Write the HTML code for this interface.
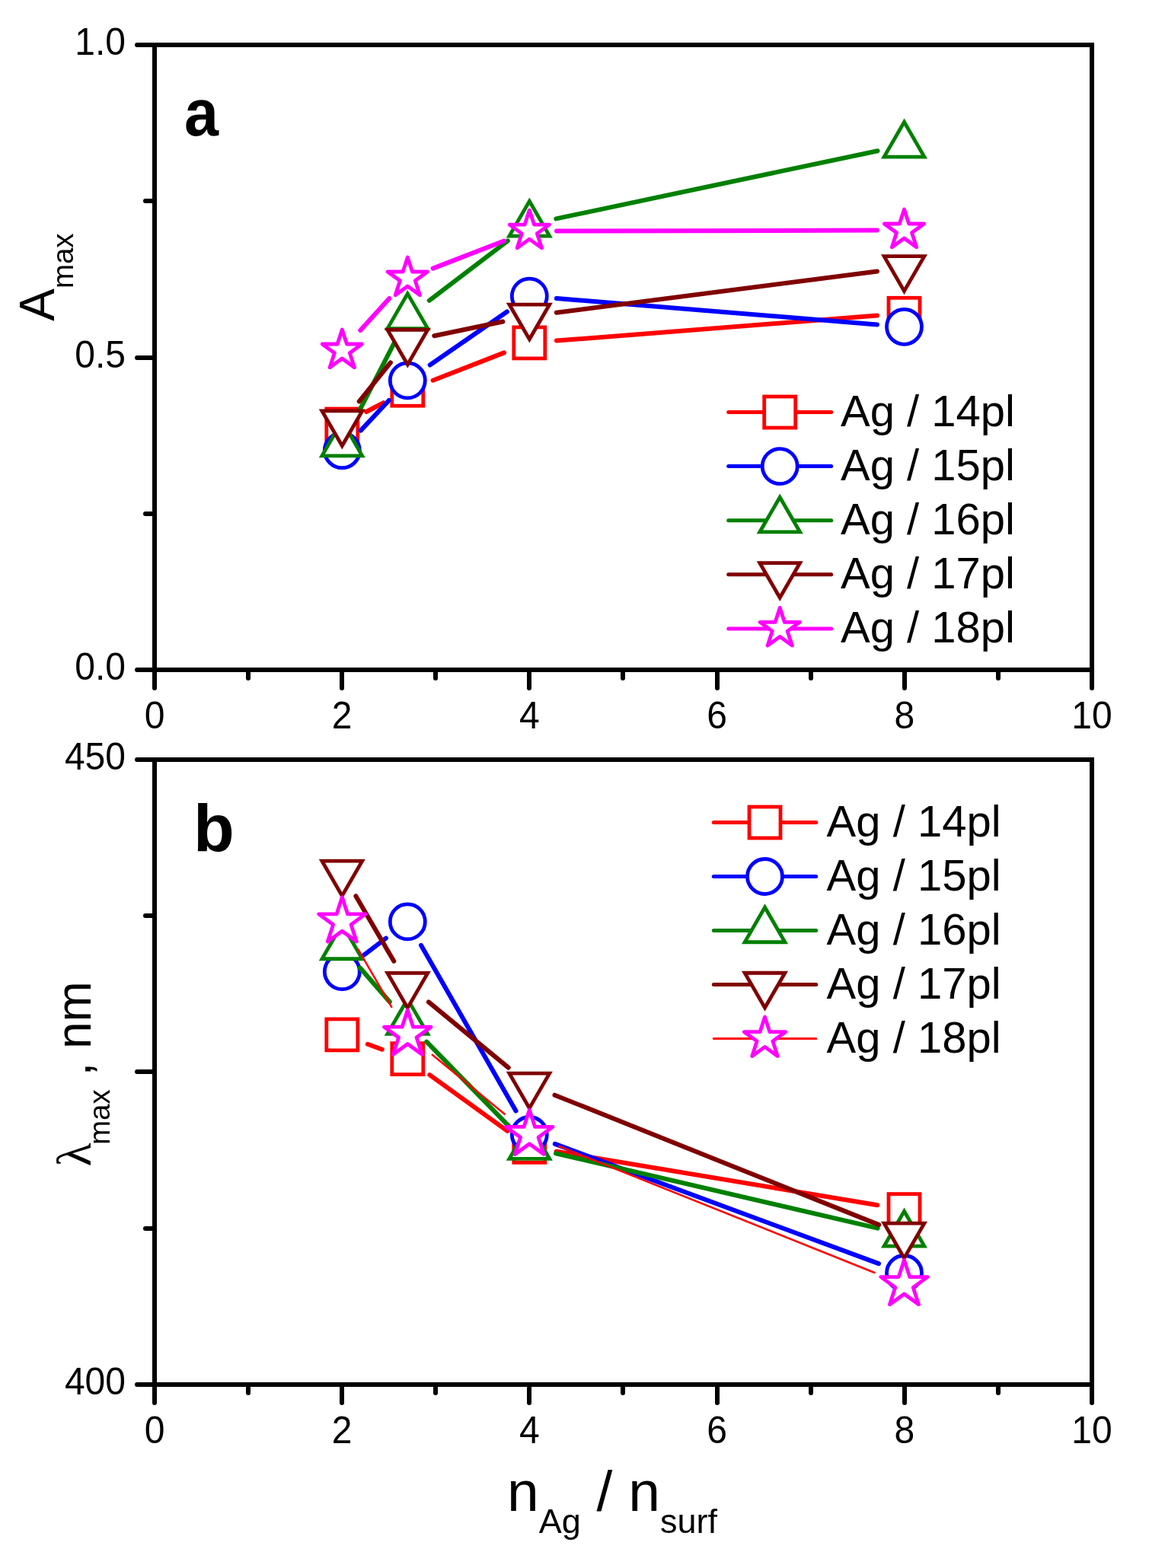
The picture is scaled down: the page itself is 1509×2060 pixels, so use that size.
<!DOCTYPE html>
<html><head><meta charset="utf-8"><title>A max and lambda max vs nAg/nsurf</title>
<style>
html,body{margin:0;padding:0;background:#fff;}
svg{display:block;}
text{font-family:"Liberation Sans",sans-serif;fill:#000;}
.tk{font-size:48px;}
.lg{font-size:58px;}
.pl{font-size:88px;font-weight:bold;}
.yt{font-size:64px;}
.sub{font-size:38.5px;}
.xt{font-size:75px;}
.xsub{font-size:45px;}
.lam{font-family:"Liberation Serif",serif;}
</style></head>
<body>
<svg width="1509" height="2060" viewBox="0 0 1509 2060">
<rect width="1509" height="2060" fill="#fff"/>
<rect x="203" y="59" width="1231" height="821" fill="none" stroke="#000" stroke-width="6"/>
<line x1="203" y1="880" x2="203" y2="904" stroke="#000" stroke-width="6" stroke-linecap="round"/>
<line x1="326" y1="880" x2="326" y2="891" stroke="#000" stroke-width="6" stroke-linecap="round"/>
<line x1="449" y1="880" x2="449" y2="904" stroke="#000" stroke-width="6" stroke-linecap="round"/>
<line x1="572" y1="880" x2="572" y2="891" stroke="#000" stroke-width="6" stroke-linecap="round"/>
<line x1="695" y1="880" x2="695" y2="904" stroke="#000" stroke-width="6" stroke-linecap="round"/>
<line x1="818" y1="880" x2="818" y2="891" stroke="#000" stroke-width="6" stroke-linecap="round"/>
<line x1="942" y1="880" x2="942" y2="904" stroke="#000" stroke-width="6" stroke-linecap="round"/>
<line x1="1065" y1="880" x2="1065" y2="891" stroke="#000" stroke-width="6" stroke-linecap="round"/>
<line x1="1188" y1="880" x2="1188" y2="904" stroke="#000" stroke-width="6" stroke-linecap="round"/>
<line x1="1311" y1="880" x2="1311" y2="891" stroke="#000" stroke-width="6" stroke-linecap="round"/>
<line x1="1434" y1="880" x2="1434" y2="904" stroke="#000" stroke-width="6" stroke-linecap="round"/>
<line x1="203" y1="59" x2="180" y2="59" stroke="#000" stroke-width="6" stroke-linecap="round"/>
<line x1="203" y1="264" x2="191" y2="264" stroke="#000" stroke-width="6" stroke-linecap="round"/>
<line x1="203" y1="470" x2="180" y2="470" stroke="#000" stroke-width="6" stroke-linecap="round"/>
<line x1="203" y1="675" x2="191" y2="675" stroke="#000" stroke-width="6" stroke-linecap="round"/>
<line x1="203" y1="880" x2="180" y2="880" stroke="#000" stroke-width="6" stroke-linecap="round"/>
<text transform="translate(203,956.5) scale(1,1.06)" class="tk" text-anchor="middle">0</text>
<text transform="translate(449.2,956.5) scale(1,1.06)" class="tk" text-anchor="middle">2</text>
<text transform="translate(695.4,956.5) scale(1,1.06)" class="tk" text-anchor="middle">4</text>
<text transform="translate(941.6,956.5) scale(1,1.06)" class="tk" text-anchor="middle">6</text>
<text transform="translate(1187.8,956.5) scale(1,1.06)" class="tk" text-anchor="middle">8</text>
<text transform="translate(1434,956.5) scale(1,1.06)" class="tk" text-anchor="middle">10</text>
<text transform="translate(165,72) scale(1,1.06)" class="tk" text-anchor="end">1.0</text>
<text transform="translate(165,482.5) scale(1,1.06)" class="tk" text-anchor="end">0.5</text>
<text transform="translate(165,893) scale(1,1.06)" class="tk" text-anchor="end">0.0</text>
<rect x="203" y="998" width="1231" height="821" fill="none" stroke="#000" stroke-width="6"/>
<line x1="203" y1="1819" x2="203" y2="1843" stroke="#000" stroke-width="6" stroke-linecap="round"/>
<line x1="326" y1="1819" x2="326" y2="1830" stroke="#000" stroke-width="6" stroke-linecap="round"/>
<line x1="449" y1="1819" x2="449" y2="1843" stroke="#000" stroke-width="6" stroke-linecap="round"/>
<line x1="572" y1="1819" x2="572" y2="1830" stroke="#000" stroke-width="6" stroke-linecap="round"/>
<line x1="695" y1="1819" x2="695" y2="1843" stroke="#000" stroke-width="6" stroke-linecap="round"/>
<line x1="818" y1="1819" x2="818" y2="1830" stroke="#000" stroke-width="6" stroke-linecap="round"/>
<line x1="942" y1="1819" x2="942" y2="1843" stroke="#000" stroke-width="6" stroke-linecap="round"/>
<line x1="1065" y1="1819" x2="1065" y2="1830" stroke="#000" stroke-width="6" stroke-linecap="round"/>
<line x1="1188" y1="1819" x2="1188" y2="1843" stroke="#000" stroke-width="6" stroke-linecap="round"/>
<line x1="1311" y1="1819" x2="1311" y2="1830" stroke="#000" stroke-width="6" stroke-linecap="round"/>
<line x1="1434" y1="1819" x2="1434" y2="1843" stroke="#000" stroke-width="6" stroke-linecap="round"/>
<line x1="203" y1="998" x2="180" y2="998" stroke="#000" stroke-width="6" stroke-linecap="round"/>
<line x1="203" y1="1203" x2="191" y2="1203" stroke="#000" stroke-width="6" stroke-linecap="round"/>
<line x1="203" y1="1408" x2="180" y2="1408" stroke="#000" stroke-width="6" stroke-linecap="round"/>
<line x1="203" y1="1614" x2="191" y2="1614" stroke="#000" stroke-width="6" stroke-linecap="round"/>
<line x1="203" y1="1819" x2="180" y2="1819" stroke="#000" stroke-width="6" stroke-linecap="round"/>
<text transform="translate(203,1895.5) scale(1,1.06)" class="tk" text-anchor="middle">0</text>
<text transform="translate(449.2,1895.5) scale(1,1.06)" class="tk" text-anchor="middle">2</text>
<text transform="translate(695.4,1895.5) scale(1,1.06)" class="tk" text-anchor="middle">4</text>
<text transform="translate(941.6,1895.5) scale(1,1.06)" class="tk" text-anchor="middle">6</text>
<text transform="translate(1187.8,1895.5) scale(1,1.06)" class="tk" text-anchor="middle">8</text>
<text transform="translate(1434,1895.5) scale(1,1.06)" class="tk" text-anchor="middle">10</text>
<text transform="translate(165,1011) scale(1,1.06)" class="tk" text-anchor="end">450</text>
<text transform="translate(165,1832) scale(1,1.06)" class="tk" text-anchor="end">400</text>
<line x1="481.01" y1="540.98" x2="503.59" y2="529.22" stroke="#ff0000" stroke-width="6" stroke-linecap="round"/>
<line x1="568.61" y1="499.73" x2="661.99" y2="463.37" stroke="#ff0000" stroke-width="6" stroke-linecap="round"/>
<line x1="730.94" y1="447.6" x2="1151.86" y2="414.6" stroke="#ff0000" stroke-width="6" stroke-linecap="round"/>
<rect x="428.8" y="537" width="41" height="41" fill="#fff" stroke="#ff0000" stroke-width="4.8"/>
<rect x="514.8" y="492.2" width="41" height="41" fill="#fff" stroke="#ff0000" stroke-width="4.8"/>
<rect x="674.8" y="429.9" width="41" height="41" fill="#fff" stroke="#ff0000" stroke-width="4.8"/>
<rect x="1167" y="391.3" width="41" height="41" fill="#fff" stroke="#ff0000" stroke-width="4.8"/>
<line x1="473.74" y1="565.61" x2="510.86" y2="525.99" stroke="#0000ff" stroke-width="6" stroke-linecap="round"/>
<line x1="564.69" y1="479.55" x2="665.91" y2="409.45" stroke="#0000ff" stroke-width="6" stroke-linecap="round"/>
<line x1="730.93" y1="392.01" x2="1151.87" y2="426.39" stroke="#0000ff" stroke-width="6" stroke-linecap="round"/>
<circle cx="449.3" cy="591.7" r="23" fill="#fff" stroke="#0000ff" stroke-width="4.8"/>
<circle cx="535.3" cy="499.9" r="23" fill="#fff" stroke="#0000ff" stroke-width="4.8"/>
<circle cx="695.3" cy="389.1" r="23" fill="#fff" stroke="#0000ff" stroke-width="4.8"/>
<circle cx="1187.5" cy="429.3" r="23" fill="#fff" stroke="#0000ff" stroke-width="4.8"/>
<line x1="465.65" y1="551.81" x2="518.95" y2="448.19" stroke="#008000" stroke-width="6" stroke-linecap="round"/>
<line x1="563.76" y1="394.77" x2="666.84" y2="316.43" stroke="#008000" stroke-width="6" stroke-linecap="round"/>
<line x1="730.28" y1="287.41" x2="1152.52" y2="198.19" stroke="#008000" stroke-width="6" stroke-linecap="round"/>
<polygon points="449.3,553.1 475.71,598.85 422.89,598.85" fill="#fff" stroke="#008000" stroke-width="4.8" stroke-linejoin="miter"/>
<polygon points="535.3,385.9 561.71,431.65 508.89,431.65" fill="#fff" stroke="#008000" stroke-width="4.8" stroke-linejoin="miter"/>
<polygon points="695.3,264.3 721.71,310.05 668.89,310.05" fill="#fff" stroke="#008000" stroke-width="4.8" stroke-linejoin="miter"/>
<polygon points="1187.5,160.3 1213.91,206.05 1161.09,206.05" fill="#fff" stroke="#008000" stroke-width="4.8" stroke-linejoin="miter"/>
<line x1="471.73" y1="527.37" x2="512.87" y2="476.33" stroke="#800000" stroke-width="6" stroke-linecap="round"/>
<line x1="570.3" y1="441.24" x2="660.3" y2="422.56" stroke="#800000" stroke-width="6" stroke-linecap="round"/>
<line x1="730.76" y1="410.73" x2="1152.04" y2="356.47" stroke="#800000" stroke-width="6" stroke-linecap="round"/>
<polygon points="449.3,585.7 475.71,539.95 422.89,539.95" fill="#fff" stroke="#800000" stroke-width="4.8" stroke-linejoin="miter"/>
<polygon points="535.3,479 561.71,433.25 508.89,433.25" fill="#fff" stroke="#800000" stroke-width="4.8" stroke-linejoin="miter"/>
<polygon points="695.3,445.8 721.71,400.05 668.89,400.05" fill="#fff" stroke="#800000" stroke-width="4.8" stroke-linejoin="miter"/>
<polygon points="1187.5,382.4 1213.91,336.65 1161.09,336.65" fill="#fff" stroke="#800000" stroke-width="4.8" stroke-linejoin="miter"/>
<line x1="473.29" y1="434" x2="511.31" y2="392" stroke="#ff00ff" stroke-width="6" stroke-linecap="round"/>
<line x1="568.64" y1="352.6" x2="661.96" y2="316.5" stroke="#ff00ff" stroke-width="6" stroke-linecap="round"/>
<line x1="731.05" y1="303.52" x2="1151.75" y2="302.58" stroke="#ff00ff" stroke-width="6" stroke-linecap="round"/>
<polygon points="449.3,433 455.47,452 475.45,452 459.29,463.75 465.46,482.75 449.3,471 433.14,482.75 439.31,463.75 423.15,452 443.13,452" fill="#fff" stroke="#ff00ff" stroke-width="4.8" stroke-linejoin="round"/>
<polygon points="535.3,338 541.47,357 561.45,357 545.29,368.75 551.46,387.75 535.3,376 519.14,387.75 525.31,368.75 509.15,357 529.13,357" fill="#fff" stroke="#ff00ff" stroke-width="4.8" stroke-linejoin="round"/>
<polygon points="695.3,276.1 701.47,295.1 721.45,295.1 705.29,306.85 711.46,325.85 695.3,314.11 679.14,325.85 685.31,306.85 669.15,295.1 689.13,295.1" fill="#fff" stroke="#ff00ff" stroke-width="4.8" stroke-linejoin="round"/>
<polygon points="1187.5,275 1193.67,294 1213.65,294 1197.49,305.75 1203.66,324.75 1187.5,313 1171.34,324.75 1177.51,305.75 1161.35,294 1181.33,294" fill="#fff" stroke="#ff00ff" stroke-width="4.8" stroke-linejoin="round"/>
<line x1="482.84" y1="1371.76" x2="501.76" y2="1378.74" stroke="#ff0000" stroke-width="6" stroke-linecap="round"/>
<line x1="564.26" y1="1412.06" x2="666.34" y2="1485.94" stroke="#ff0000" stroke-width="6" stroke-linecap="round"/>
<line x1="730.56" y1="1512.79" x2="1152.24" y2="1583.21" stroke="#ff0000" stroke-width="6" stroke-linecap="round"/>
<rect x="428.8" y="1338.9" width="41" height="41" fill="#fff" stroke="#ff0000" stroke-width="4.8"/>
<rect x="514.8" y="1370.6" width="41" height="41" fill="#fff" stroke="#ff0000" stroke-width="4.8"/>
<rect x="674.8" y="1486.4" width="41" height="41" fill="#fff" stroke="#ff0000" stroke-width="4.8"/>
<rect x="1167" y="1568.6" width="41" height="41" fill="#fff" stroke="#ff0000" stroke-width="4.8"/>
<line x1="477.71" y1="1254.9" x2="506.89" y2="1232.6" stroke="#0000ff" stroke-width="6" stroke-linecap="round"/>
<line x1="553.06" y1="1241.93" x2="677.54" y2="1459.47" stroke="#0000ff" stroke-width="6" stroke-linecap="round"/>
<line x1="728.83" y1="1502.9" x2="1153.97" y2="1660.1" stroke="#0000ff" stroke-width="6" stroke-linecap="round"/>
<circle cx="449.3" cy="1276.6" r="23" fill="#fff" stroke="#0000ff" stroke-width="4.8"/>
<circle cx="535.3" cy="1210.9" r="23" fill="#fff" stroke="#0000ff" stroke-width="4.8"/>
<circle cx="695.3" cy="1490.5" r="23" fill="#fff" stroke="#0000ff" stroke-width="4.8"/>
<circle cx="1187.5" cy="1672.5" r="23" fill="#fff" stroke="#0000ff" stroke-width="4.8"/>
<line x1="472.8" y1="1271.44" x2="511.8" y2="1316.16" stroke="#008000" stroke-width="6" stroke-linecap="round"/>
<line x1="560.26" y1="1368.7" x2="670.34" y2="1481.6" stroke="#008000" stroke-width="6" stroke-linecap="round"/>
<line x1="730.12" y1="1515.31" x2="1152.68" y2="1613.69" stroke="#008000" stroke-width="6" stroke-linecap="round"/>
<polygon points="449.3,1214 475.71,1259.75 422.89,1259.75" fill="#fff" stroke="#008000" stroke-width="4.8" stroke-linejoin="miter"/>
<polygon points="535.3,1312.6 561.71,1358.35 508.89,1358.35" fill="#fff" stroke="#008000" stroke-width="4.8" stroke-linejoin="miter"/>
<polygon points="695.3,1476.7 721.71,1522.45 668.89,1522.45" fill="#fff" stroke="#008000" stroke-width="4.8" stroke-linejoin="miter"/>
<polygon points="1187.5,1591.3 1213.91,1637.05 1161.09,1637.05" fill="#fff" stroke="#008000" stroke-width="4.8" stroke-linejoin="miter"/>
<line x1="467.33" y1="1177.27" x2="517.27" y2="1262.73" stroke="#800000" stroke-width="6" stroke-linecap="round"/>
<line x1="562.89" y1="1316.33" x2="667.71" y2="1402.67" stroke="#800000" stroke-width="6" stroke-linecap="round"/>
<line x1="728.49" y1="1438.68" x2="1154.31" y2="1609.12" stroke="#800000" stroke-width="6" stroke-linecap="round"/>
<polygon points="449.3,1176.9 475.71,1131.15 422.89,1131.15" fill="#fff" stroke="#800000" stroke-width="4.8" stroke-linejoin="miter"/>
<polygon points="535.3,1324.1 561.71,1278.35 508.89,1278.35" fill="#fff" stroke="#800000" stroke-width="4.8" stroke-linejoin="miter"/>
<polygon points="695.3,1455.9 721.71,1410.15 668.89,1410.15" fill="#fff" stroke="#800000" stroke-width="4.8" stroke-linejoin="miter"/>
<polygon points="1187.5,1652.9 1213.91,1607.15 1161.09,1607.15" fill="#fff" stroke="#800000" stroke-width="4.8" stroke-linejoin="miter"/>
<line x1="470.37" y1="1247.23" x2="514.23" y2="1322.87" stroke="#ff0000" stroke-width="2.5" stroke-linecap="round"/>
<line x1="567.78" y1="1385.83" x2="662.82" y2="1463.77" stroke="#ff0000" stroke-width="2.5" stroke-linecap="round"/>
<line x1="734.29" y1="1506.02" x2="1148.51" y2="1671.98" stroke="#ff0000" stroke-width="2.5" stroke-linecap="round"/>
<polygon points="449.3,1178.6 456.55,1200.92 480.02,1200.92 461.03,1214.71 468.29,1237.03 449.3,1223.24 430.31,1237.03 437.57,1214.71 418.58,1200.92 442.05,1200.92" fill="#fff" stroke="#ff00ff" stroke-width="4.8" stroke-linejoin="round"/>
<polygon points="535.3,1326.9 542.55,1349.22 566.02,1349.22 547.03,1363.01 554.29,1385.33 535.3,1371.54 516.31,1385.33 523.57,1363.01 504.58,1349.22 528.05,1349.22" fill="#fff" stroke="#ff00ff" stroke-width="4.8" stroke-linejoin="round"/>
<polygon points="695.3,1458.1 702.55,1480.42 726.02,1480.42 707.03,1494.21 714.29,1516.53 695.3,1502.74 676.31,1516.53 683.57,1494.21 664.58,1480.42 688.05,1480.42" fill="#fff" stroke="#ff00ff" stroke-width="4.8" stroke-linejoin="round"/>
<polygon points="1187.5,1655.3 1194.75,1677.62 1218.22,1677.62 1199.23,1691.41 1206.49,1713.73 1187.5,1699.94 1168.51,1713.73 1175.77,1691.41 1156.78,1677.62 1180.25,1677.62" fill="#fff" stroke="#ff00ff" stroke-width="4.8" stroke-linejoin="round"/>
<line x1="956.7" y1="541.5" x2="1091.7" y2="541.5" stroke="#ff0000" stroke-width="5" stroke-linecap="round"/>
<rect x="1003.7" y="521" width="41" height="41" fill="#fff" stroke="#ff0000" stroke-width="4.8"/>
<text x="1104" y="559.7" class="lg">Ag / 14pl</text>
<line x1="956.7" y1="612.6" x2="1091.7" y2="612.6" stroke="#0000ff" stroke-width="5" stroke-linecap="round"/>
<circle cx="1024.2" cy="612.6" r="23" fill="#fff" stroke="#0000ff" stroke-width="4.8"/>
<text x="1104" y="630.8" class="lg">Ag / 15pl</text>
<line x1="956.7" y1="683.7" x2="1091.7" y2="683.7" stroke="#008000" stroke-width="5" stroke-linecap="round"/>
<polygon points="1024.2,653.2 1050.61,698.95 997.79,698.95" fill="#fff" stroke="#008000" stroke-width="4.8" stroke-linejoin="miter"/>
<text x="1104" y="701.9" class="lg">Ag / 16pl</text>
<line x1="956.7" y1="754.8" x2="1091.7" y2="754.8" stroke="#800000" stroke-width="5" stroke-linecap="round"/>
<polygon points="1024.2,785.3 1050.61,739.55 997.79,739.55" fill="#fff" stroke="#800000" stroke-width="4.8" stroke-linejoin="miter"/>
<text x="1104" y="773" class="lg">Ag / 17pl</text>
<line x1="956.7" y1="825.9" x2="1091.7" y2="825.9" stroke="#ff00ff" stroke-width="5" stroke-linecap="round"/>
<polygon points="1024.2,798.4 1030.37,817.4 1050.35,817.4 1034.19,829.15 1040.36,848.15 1024.2,836.4 1008.04,848.15 1014.21,829.15 998.05,817.4 1018.03,817.4" fill="#fff" stroke="#ff00ff" stroke-width="4.8" stroke-linejoin="round"/>
<text x="1104" y="844.1" class="lg">Ag / 18pl</text>
<line x1="937.3" y1="1080.5" x2="1071.7" y2="1080.5" stroke="#ff0000" stroke-width="5" stroke-linecap="round"/>
<rect x="984" y="1060" width="41" height="41" fill="#fff" stroke="#ff0000" stroke-width="4.8"/>
<text x="1085.6" y="1098.7" class="lg">Ag / 14pl</text>
<line x1="937.3" y1="1151.5" x2="1071.7" y2="1151.5" stroke="#0000ff" stroke-width="5" stroke-linecap="round"/>
<circle cx="1004.5" cy="1151.5" r="23" fill="#fff" stroke="#0000ff" stroke-width="4.8"/>
<text x="1085.6" y="1169.7" class="lg">Ag / 15pl</text>
<line x1="937.3" y1="1222.5" x2="1071.7" y2="1222.5" stroke="#008000" stroke-width="5" stroke-linecap="round"/>
<polygon points="1004.5,1192 1030.91,1237.75 978.09,1237.75" fill="#fff" stroke="#008000" stroke-width="4.8" stroke-linejoin="miter"/>
<text x="1085.6" y="1240.7" class="lg">Ag / 16pl</text>
<line x1="937.3" y1="1293.5" x2="1071.7" y2="1293.5" stroke="#800000" stroke-width="5" stroke-linecap="round"/>
<polygon points="1004.5,1324 1030.91,1278.25 978.09,1278.25" fill="#fff" stroke="#800000" stroke-width="4.8" stroke-linejoin="miter"/>
<text x="1085.6" y="1311.7" class="lg">Ag / 17pl</text>
<line x1="937.3" y1="1364.5" x2="1071.7" y2="1364.5" stroke="#ff0000" stroke-width="3" stroke-linecap="round"/>
<polygon points="1004.5,1336 1010.9,1355.69 1031.61,1355.69 1014.85,1367.86 1021.25,1387.56 1004.5,1375.39 987.75,1387.56 994.15,1367.86 977.39,1355.69 998.1,1355.69" fill="#fff" stroke="#ff00ff" stroke-width="4.8" stroke-linejoin="round"/>
<text x="1085.6" y="1382.7" class="lg">Ag / 18pl</text>
<text transform="translate(242,178) scale(0.92,1)" class="pl">a</text>
<text x="254" y="1118" class="pl">b</text>
<text transform="translate(70.8,421.8) rotate(-90)" class="yt">A<tspan class="sub" dy="25">max</tspan></text>
<text transform="translate(119.4,1532.6) rotate(-90)" class="yt"><tspan class="lam">λ</tspan><tspan class="sub" dx="-2.5" dy="24.8">max</tspan><tspan dy="-24.8"> , nm</tspan></text>
<text x="666" y="1985" class="xt">n<tspan class="xsub" dy="29">Ag</tspan><tspan dy="-29"> / n</tspan><tspan class="xsub" dy="29">surf</tspan></text>
</svg>
</body></html>
